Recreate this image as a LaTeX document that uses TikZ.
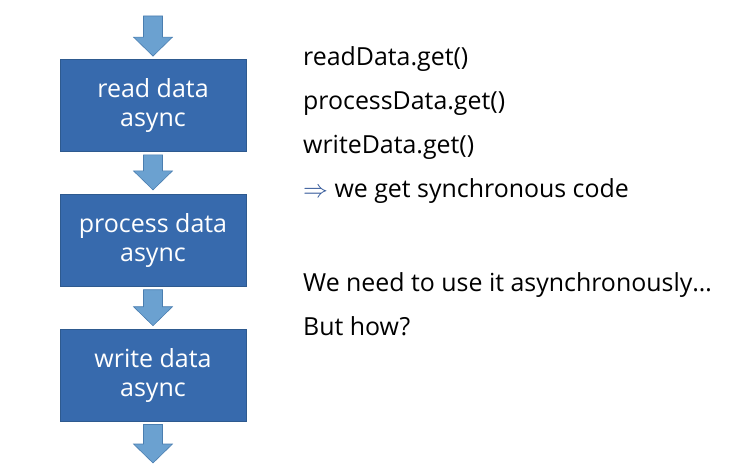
\documentclass[tikz,border=0pt]{standalone}
\usepackage{fontspec}
\setmainfont{Open Sans}
\usetikzlibrary{positioning,calc}
\definecolor{stepblue}{HTML}{376AAD}
\definecolor{stepedge}{HTML}{2E5A8F}
\definecolor{flowblue}{HTML}{6BA1D0}
\definecolor{flowedge}{HTML}{4A7EB0}
\definecolor{implblue}{HTML}{2F5597}

% block arrow from coordinate #1 down to tip #2
\newcommand{\flowarrow}[2]{%
  \draw[flowarr] ($(#1)+(-9.5,0)$) -- ($(#2)+(-9.5,-19)$) -- ($(#2)+(-19.5,-19)$)
    -- (#2) -- ($(#2)+(19.5,-19)$) -- ($(#2)+(9.5,-19)$) -- ($(#1)+(9.5,0)$) -- cycle;}

\begin{document}
\begin{tikzpicture}[
  x=1pt, y=-1pt,
  stepbox/.style={rectangle, draw=stepedge, fill=stepblue, line width=0.8pt,
    minimum width=186pt, minimum height=92pt, inner sep=0pt, align=center,
    text=white, font=\fontsize{25}{29}\selectfont},
  flowarr/.style={draw=flowedge, fill=flowblue, line width=0.6pt, line join=miter},
  codeline/.style={anchor=base west, inner sep=0pt, font=\fontsize{24.9}{29}\selectfont},
  node distance=42pt,
]
  \useasboundingbox (0,0) rectangle (755,473);

  \node[stepbox] (read) at (153,105.5) {read data\\async};
  \node[stepbox, below=of read] (process) {process data\\async};
  \node[stepbox, below=of process] (write) {write data\\async};

  \coordinate (in) at (153,16);
  \coordinate (out) at (153,463);
  \coordinate (readin) at ($(read.north)+(0,-3)$);
  \coordinate (readout) at ($(read.south)+(0,3)$);
  \coordinate (processin) at ($(process.north)+(0,-4)$);
  \coordinate (processout) at ($(process.south)+(0,3)$);
  \coordinate (writein) at ($(write.north)+(0,-3)$);
  \coordinate (writeout) at ($(write.south)+(0,3)$);

  \flowarrow{in}{readin}
  \flowarrow{readout}{processin}
  \flowarrow{processout}{writein}
  \flowarrow{writeout}{out}

  % right column
  \node[codeline] (l1) at (303,66) {readData.get()};
  \node[codeline] (l2) at (303,110) {processData.get()};
  \node[codeline] (l3) at (303,154) {writeData.get()};
  \node[codeline] (l4) at (303,198) {{\color{implblue}$\Rightarrow$} we get synchronous code};
  \node[codeline] (l5) at (303,291) {We need to use it asynchronously\ldots};
  \node[codeline] (l6) at (303,335) {But how?};
\end{tikzpicture}
\end{document}
